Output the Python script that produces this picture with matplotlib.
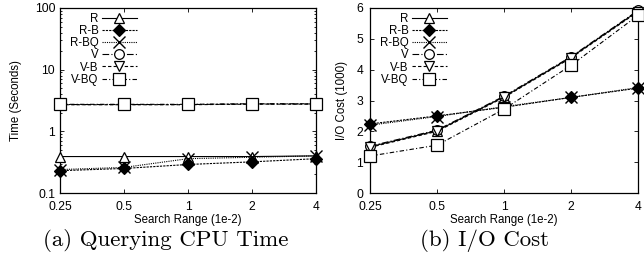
import numpy as np
import matplotlib
matplotlib.use("Agg")
import matplotlib.pyplot as plt
from matplotlib.ticker import FixedLocator, NullFormatter, LogLocator

# search range (1e-2)
ranges = [0.25, 0.5, 1, 2, 4]
range_labels = ["0.25", "0.5", "1", "2", "4"]
series = ["R", "R-B", "R-BQ", "V", "V-B", "V-BQ"]

# (a) querying CPU time (seconds)
cpu_R = [0.39, 0.39, 0.39, 0.39, 0.40]
cpu_RB = [0.23, 0.25, 0.29, 0.32, 0.36]
cpu_RBQ = [0.24, 0.26, 0.36, 0.38, 0.40]
cpu_V = [2.72, 2.72, 2.72, 2.78, 2.78]
cpu_VB = [2.70, 2.70, 2.70, 2.76, 2.76]
cpu_VBQ = [2.74, 2.74, 2.74, 2.80, 2.80]

# (b) I/O cost (1000)
io_R = [1.50, 2.02, 3.12, 4.40, 5.90]
io_RB = [2.24, 2.50, 2.78, 3.10, 3.40]
io_RBQ = [2.20, 2.48, 2.80, 3.10, 3.42]
io_V = [1.52, 2.04, 3.14, 4.42, 5.92]
io_VB = [1.48, 2.00, 3.10, 4.38, 5.88]
io_VBQ = [1.20, 1.55, 2.72, 4.14, 5.76]

styles = {
    "R":    dict(ls="-", marker="^", mfc="white"),
    "R-B":  dict(ls=(0, (2, 1)), marker="D", mfc="black", ms=6),
    "R-BQ": dict(ls=(0, (1, 1)), marker="x", mfc="none", ms=9, mew=1.0),
    "V":    dict(ls=(0, (6, 2, 1, 2)), marker="o", mfc="white"),
    "V-B":  dict(ls=(0, (3, 2)), marker="v", mfc="white"),
    "V-BQ": dict(ls=(0, (4, 2, 1, 2)), marker="s", mfc="white", ms=8),
}

plt.rcParams["font.family"] = ["Liberation Sans", "DejaVu Sans"]

fig = plt.figure(figsize=(6.44, 2.57), dpi=100)
ax1 = fig.add_axes([60 / 644, 1 - 193 / 257, 256 / 644, 185 / 257])
ax2 = fig.add_axes([370 / 644, 1 - 193 / 257, 268 / 644, 185 / 257])


def draw(ax, data):
    for name, vals in zip(series, data):
        st = dict(styles[name])
        ms = st.pop("ms", 7)
        mew = st.pop("mew", 0.9)
        ax.plot(ranges, vals, color="black", lw=0.8, ms=ms, mew=mew,
                mec="black", clip_on=False, label=name, zorder=3, **st)
    ax.set_xscale("log", base=2)
    ax.set_xlim(0.25, 4)
    ax.xaxis.set_major_locator(FixedLocator(ranges))
    ax.xaxis.set_minor_locator(FixedLocator([]))
    ax.set_xticklabels(range_labels)
    ax.set_xlabel("Search Range (1e-2)", fontsize=8.3, labelpad=1)
    ax.tick_params(which="both", direction="in", top=True, right=True,
                   labelsize=8.7, width=0.6)
    ax.tick_params(axis="x", pad=5.5)
    ax.tick_params(which="major", length=3)
    ax.tick_params(which="minor", length=1.6)
    for sp in ax.spines.values():
        sp.set_linewidth(0.9)
    leg = ax.legend(loc="upper left", markerfirst=False, frameon=False,
                    fontsize=8.3, handlelength=3.0, handletextpad=0.3,
                    labelspacing=0.02, borderaxespad=0.0,
                    bbox_to_anchor=(0.02, 1.0))
    for t in leg.get_texts():
        t.set_ha("right")
    return leg


leg1 = draw(ax1, [cpu_R, cpu_RB, cpu_RBQ, cpu_V, cpu_VB, cpu_VBQ])
ax1.set_yscale("log")
ax1.set_ylim(0.1, 100)
ax1.yaxis.set_major_locator(FixedLocator([0.1, 1, 10, 100]))
ax1.yaxis.set_minor_locator(LogLocator(base=10, subs=np.arange(2, 10)))
ax1.yaxis.set_minor_formatter(NullFormatter())
ax1.set_yticklabels(["0.1", "1", "10", "100"])
ax1.set_ylabel("Time (Seconds)", fontsize=8.3, labelpad=9)

leg2 = draw(ax2, [io_R, io_RB, io_RBQ, io_V, io_VB, io_VBQ])
ax2.set_ylim(0, 6)
ax2.set_yticks(range(0, 7))
ax2.tick_params(axis="y", pad=5)
ax2.set_ylabel("I/O Cost (1000)", fontsize=8.3, labelpad=6)

fig.text(166 / 644, 1 - 240 / 257, "(a) Querying CPU Time", ha="center",
         va="center", fontsize=16.5, family=["cmr10", "DejaVu Serif"])
fig.text(484 / 644, 1 - 240 / 257, "(b) I/O Cost", ha="center",
         va="center", fontsize=16.5, family=["cmr10", "DejaVu Serif"])

fig.savefig("out.png", dpi=100)
